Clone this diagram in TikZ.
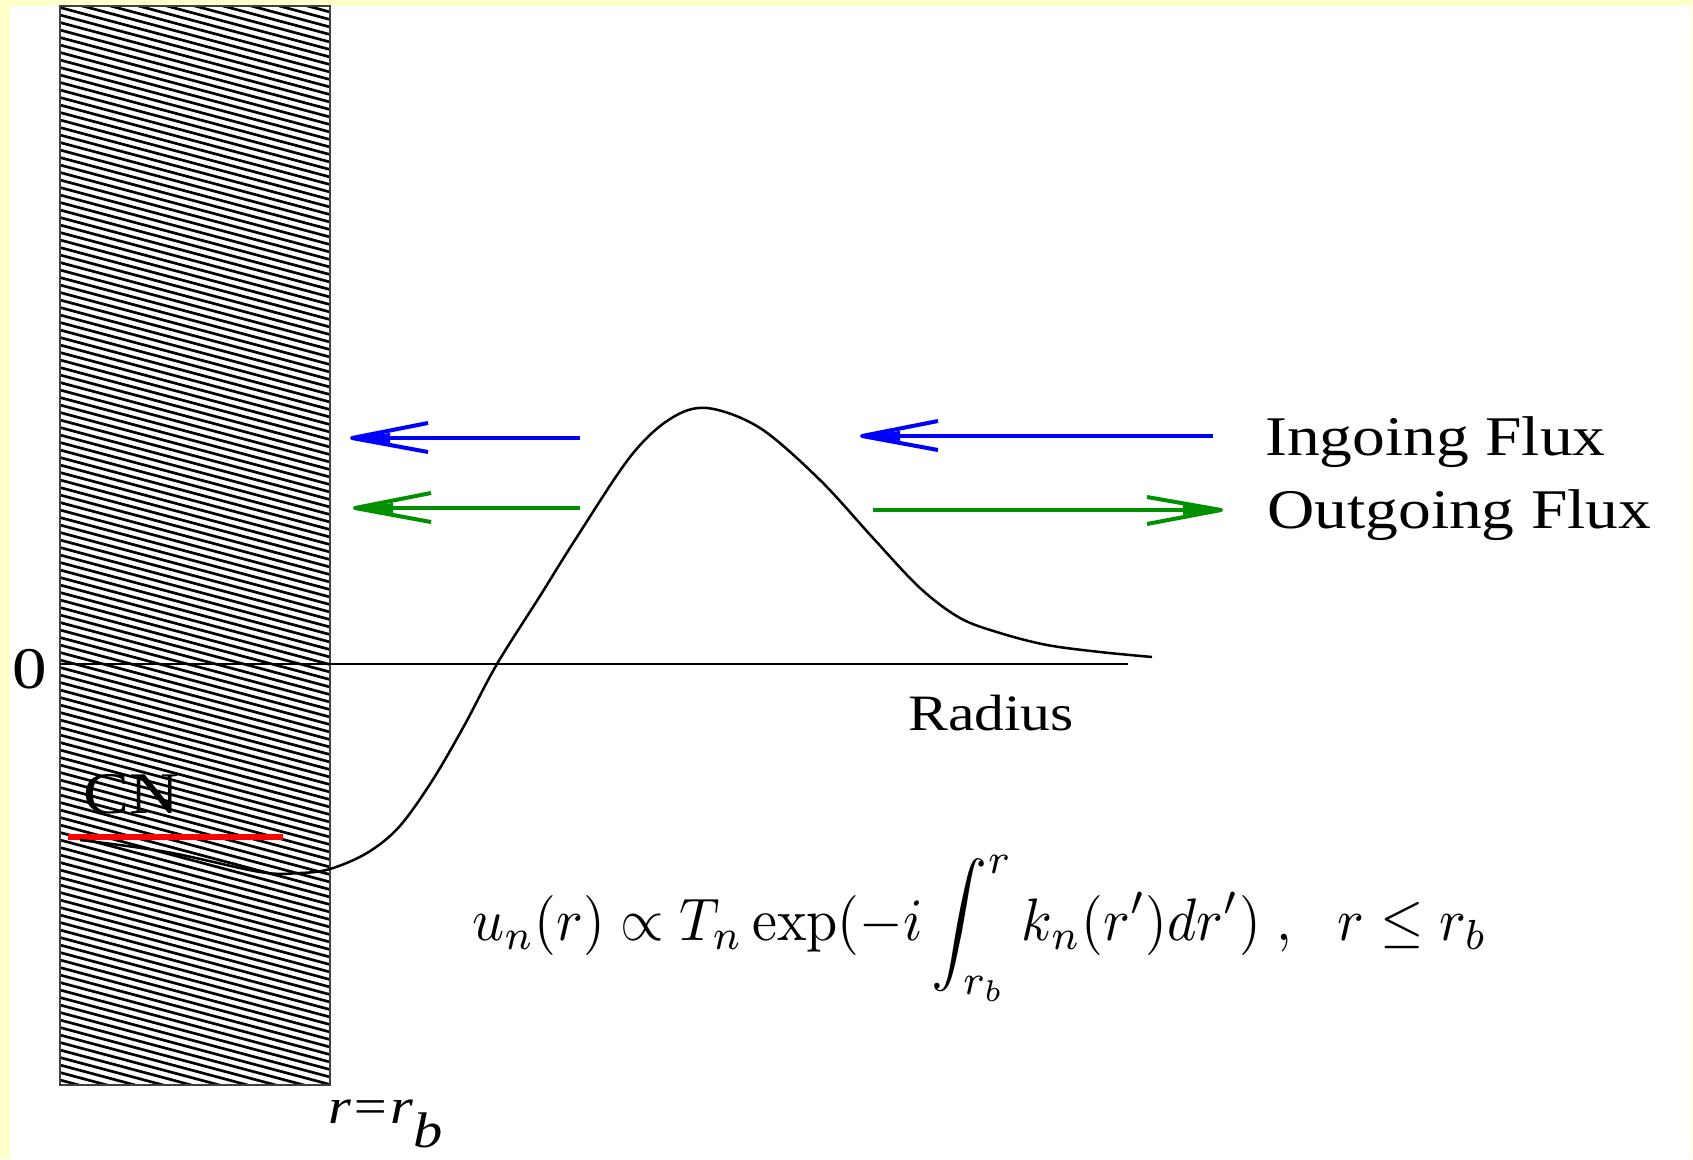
\documentclass[tikz,border=0pt]{standalone}
\usepackage[no-math]{fontspec}
\setmainfont{Liberation Serif}[FakeStretch=1.17]
\usepackage{graphicx}
\definecolor{bgyellow}{RGB}{255,255,204}
\definecolor{figgreen}{RGB}{0,144,0}
\begin{document}
\begin{tikzpicture}[x=1pt,y=-1pt,
  lbl/.style={anchor=base west, inner sep=0pt, font=\fontsize{56}{60}\selectfont},
  fluxline/.style={line width=4pt, line cap=butt, line join=round},
  hatchline/.style={line width=2.7pt},
  curveline/.style={line width=2.5pt, line join=round}]
\useasboundingbox (0,0) rectangle (1693,1159);
\fill[bgyellow] (0,0) rectangle (1693,1159);
\fill[white] (10,6) rectangle (1692,1159);
% CN label (under hatch)
\node[lbl, font=\fontsize{59}{60}\selectfont] (cn) at (83,813) {CN};
% hatched wall
\begin{scope}
\clip (60,6) rectangle (330,1085);
\foreach \k in {-12,...,146} \draw[hatchline] (60,\k*7.5) -- (330,\k*7.5+72);
\end{scope}
\draw[line width=2pt, black!75] (60,6) rectangle (330,1085);
% zero axis
\coordinate (ax0) at (60,664);
\coordinate (ax1) at (1128,664);
\draw[line width=1.5pt] (ax0) -- (ax1);
\node[lbl, font=\fontsize{59}{60}\selectfont] (zero) at (12,688) {0};
\node[lbl, font=\fontsize{51}{60}\selectfont] (radius) at (908,730) {Radius};
% red level
\coordinate (cn0) at (68,837);
\coordinate (cn1) at (283,837);
\draw[red, line width=6pt] (cn0) -- (cn1);
% potential curve
\draw[curveline] plot[smooth, tension=0.55] coordinates {(80,840) (167,852) (260,872) (300,873) (330,869) (367,853) (399,827) (432,781) (464,726) (497,664) (540,596) (575,540) (630,457) (670,419) (707,408) (760,428) (820,480) (873,538) (920,588) (960,618) (1000,633) (1047,645) (1100,652) (1152,657)};
% flux arrows
\coordinate (bLtail) at (580,438); \coordinate (bLtip) at (352,438);
\coordinate (gLtail) at (580,508); \coordinate (gLtip) at (355,508);
\coordinate (bRtail) at (1213,436); \coordinate (bRtip) at (862,436);
\coordinate (gRtail) at (873,510); \coordinate (gRtip) at (1221,510);
\foreach \t/\s/\c in {bLtip/bLtail/blue, gLtip/gLtail/figgreen, bRtip/bRtail/blue}{
  \draw[fluxline, \c] (\s) -- (\t);
  \draw[fluxline, \c] ([shift={(76,-15)}]\t) -- (\t) -- ([shift={(76,14)}]\t);
  \fill[\c] (\t) -- ([shift={(38,-5)}]\t) -- ([shift={(38,5)}]\t) -- cycle;
}
\draw[fluxline, figgreen] (gRtail) -- (gRtip);
\draw[fluxline, figgreen] ([shift={(-74,-13)}]gRtip) -- (gRtip) -- ([shift={(-74,14)}]gRtip);
\fill[figgreen] (gRtip) -- ([shift={(-38,-5)}]gRtip) -- ([shift={(-38,5)}]gRtip) -- cycle;
\node[lbl] (ingoing) at (1265,455) {Ingoing Flux};
\node[lbl] (outgoing) at (1267,528) {Outgoing Flux};
% formula
\node[anchor=base west, inner sep=0pt] (formula) at (472,940)
  {\scalebox{5.6}[6]{$\displaystyle u_n(r)\propto T_n\exp(-i\int_{r_b}^{r}k_n(r')dr')\;,\hspace{6.5pt}r\le r_b$}};
% r = r_b
\node[lbl, font=\fontsize{50}{60}\selectfont\itshape] (rb) at (328,1123) {r=r\raisebox{-24pt}{b}};
\end{tikzpicture}
\end{document}
